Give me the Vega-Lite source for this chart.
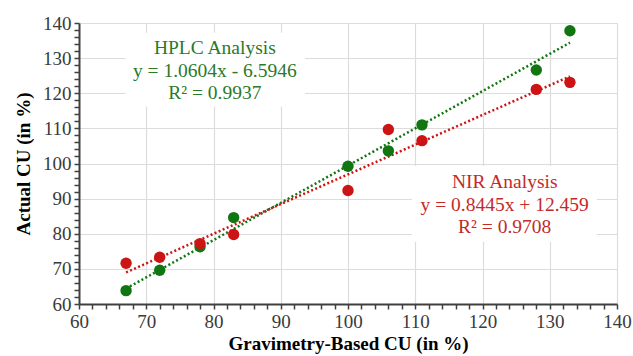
{
  "$schema": "https://vega.github.io/schema/vega-lite/v6.json",
  "width": 538,
  "height": 281,
  "autosize": {"type": "none"},
  "padding": {"left": 79, "top": 23, "right": 16, "bottom": 52},
  "background": "white",
  "config": {
    "view": {"stroke": null},
    "font": "Times New Roman, Liberation Serif, serif"
  },
  "encoding": {
    "x": {"field": "x", "type": "quantitative",
      "scale": {"domain": [60, 140], "nice": false, "zero": false},
      "axis": {
        "title": "Gravimetry-Based CU (in %)",
        "titleFont": "Times New Roman, Liberation Serif, serif", "titleFontSize": 19, "titleFontWeight": "bold", "titleColor": "#000", "titlePadding": 3,
        "values": [60,62,64,66,68,70,72,74,76,78,80,82,84,86,88,90,92,94,96,98,100,102,104,106,108,110,112,114,116,118,120,122,124,126,128,130,132,134,136,138,140],
        "labelExpr": "datum.value % 10 === 0 ? datum.label : ''",
        "labelFont": "Times New Roman, Liberation Serif, serif", "labelFontSize": 19, "labelColor": "#3a3a3a", "labelPadding": 3,
        "domainColor": "#404040", "domainWidth": 2,
        "tickColor": "#404040", "tickWidth": 1.5, "tickSize": 5,
        "grid": true,
        "gridColor": "#dcdcdc", "gridWidth": 1.2,
        "gridOpacity": {"condition": {"test": "datum.value % 10 === 0 && datum.value > 60", "value": 1}, "value": 0},
        "labelFlush": false, "labelOverlap": false
      }},
    "y": {"field": "y", "type": "quantitative",
      "scale": {"domain": [60, 140], "nice": false, "zero": false},
      "axis": {
        "title": "Actual CU (in %)",
        "titleFont": "Times New Roman, Liberation Serif, serif", "titleFontSize": 19, "titleFontWeight": "bold", "titleColor": "#000", "titlePadding": 9,
        "values": [60,62,64,66,68,70,72,74,76,78,80,82,84,86,88,90,92,94,96,98,100,102,104,106,108,110,112,114,116,118,120,122,124,126,128,130,132,134,136,138,140],
        "labelExpr": "datum.value % 10 === 0 ? datum.label : ''",
        "labelFont": "Times New Roman, Liberation Serif, serif", "labelFontSize": 19, "labelColor": "#3a3a3a", "labelPadding": 3,
        "domainColor": "#404040", "domainWidth": 2,
        "tickColor": "#404040", "tickWidth": 1.5, "tickSize": 5,
        "grid": true,
        "gridColor": "#dcdcdc", "gridWidth": 1.2,
        "gridOpacity": {"condition": {"test": "datum.value % 10 === 0 && datum.value > 60", "value": 1}, "value": 0},
        "labelFlush": false, "labelOverlap": false
      }}
  },
  "layer": [
    {
      "data": {"values": [
        {"method": "HPLC", "x": 66.9, "x2": 93.6, "y": 137.2, "y2": 116.2},
        {"method": "NIR", "x": 109.5, "x2": 137.0, "y": 99.3, "y2": 77.7}
      ]},
      "mark": {"type": "rect", "fill": "white"},
      "encoding": {
        "x2": {"field": "x2"},
        "y2": {"field": "y2"}
      }
    },
    {
      "data": {"values": [
        {"method": "HPLC", "x": 67, "y": 64.4},
        {"method": "HPLC", "x": 133, "y": 134.4},
        {"method": "NIR", "x": 67, "y": 69.0},
        {"method": "NIR", "x": 133, "y": 124.8}
      ]},
      "mark": {"type": "line", "strokeWidth": 2.5, "strokeDash": [2, 2.4], "strokeCap": "butt"},
      "encoding": {
        "detail": {"field": "method"},
        "color": {"field": "method", "type": "nominal",
          "scale": {"domain": ["HPLC", "NIR"], "range": ["#117511", "#cc1414"]}, "legend": null}
      }
    },
    {
      "data": {"values": [
        {"method": "HPLC", "x": 67, "y": 63.8},
        {"method": "HPLC", "x": 72, "y": 69.6},
        {"method": "HPLC", "x": 78, "y": 76.3},
        {"method": "HPLC", "x": 83, "y": 84.6},
        {"method": "HPLC", "x": 100, "y": 99.2},
        {"method": "HPLC", "x": 106, "y": 103.6},
        {"method": "HPLC", "x": 111, "y": 111.0},
        {"method": "HPLC", "x": 128, "y": 126.6},
        {"method": "HPLC", "x": 133, "y": 137.8},
        {"method": "NIR", "x": 67, "y": 71.6},
        {"method": "NIR", "x": 72, "y": 73.3},
        {"method": "NIR", "x": 78, "y": 77.2},
        {"method": "NIR", "x": 83, "y": 79.8},
        {"method": "NIR", "x": 100, "y": 92.3},
        {"method": "NIR", "x": 106, "y": 109.7},
        {"method": "NIR", "x": 111, "y": 106.5},
        {"method": "NIR", "x": 128, "y": 121.1},
        {"method": "NIR", "x": 133, "y": 123.1}
      ]},
      "mark": {"type": "circle", "size": 130, "opacity": 1},
      "encoding": {
        "color": {"field": "method", "type": "nominal",
          "scale": {"domain": ["HPLC", "NIR"], "range": ["#117511", "#cc1414"]}, "legend": null}
      }
    },
    {
      "data": {"values": [
        {"method": "HPLC", "x": 80.2, "y": 133.0, "text": "HPLC Analysis"},
        {"method": "HPLC", "x": 80.2, "y": 126.4, "text": "y = 1.0604x - 6.5946"},
        {"method": "HPLC", "x": 80.2, "y": 120.0, "text": "R² = 0.9937"},
        {"method": "NIR", "x": 123.3, "y": 94.8, "text": "NIR Analysis"},
        {"method": "NIR", "x": 123.3, "y": 88.2, "text": "y = 0.8445x + 12.459"},
        {"method": "NIR", "x": 123.3, "y": 81.8, "text": "R² = 0.9708"}
      ]},
      "mark": {"type": "text", "font": "Times New Roman, Liberation Serif, serif", "fontSize": 19.5, "align": "center", "baseline": "middle"},
      "encoding": {
        "text": {"field": "text"},
        "color": {"field": "method", "type": "nominal",
          "scale": {"domain": ["HPLC", "NIR"], "range": ["#2a7a2a", "#c42a2a"]}, "legend": null}
      }
    }
  ],
  "resolve": {"scale": {"color": "independent"}}
}
